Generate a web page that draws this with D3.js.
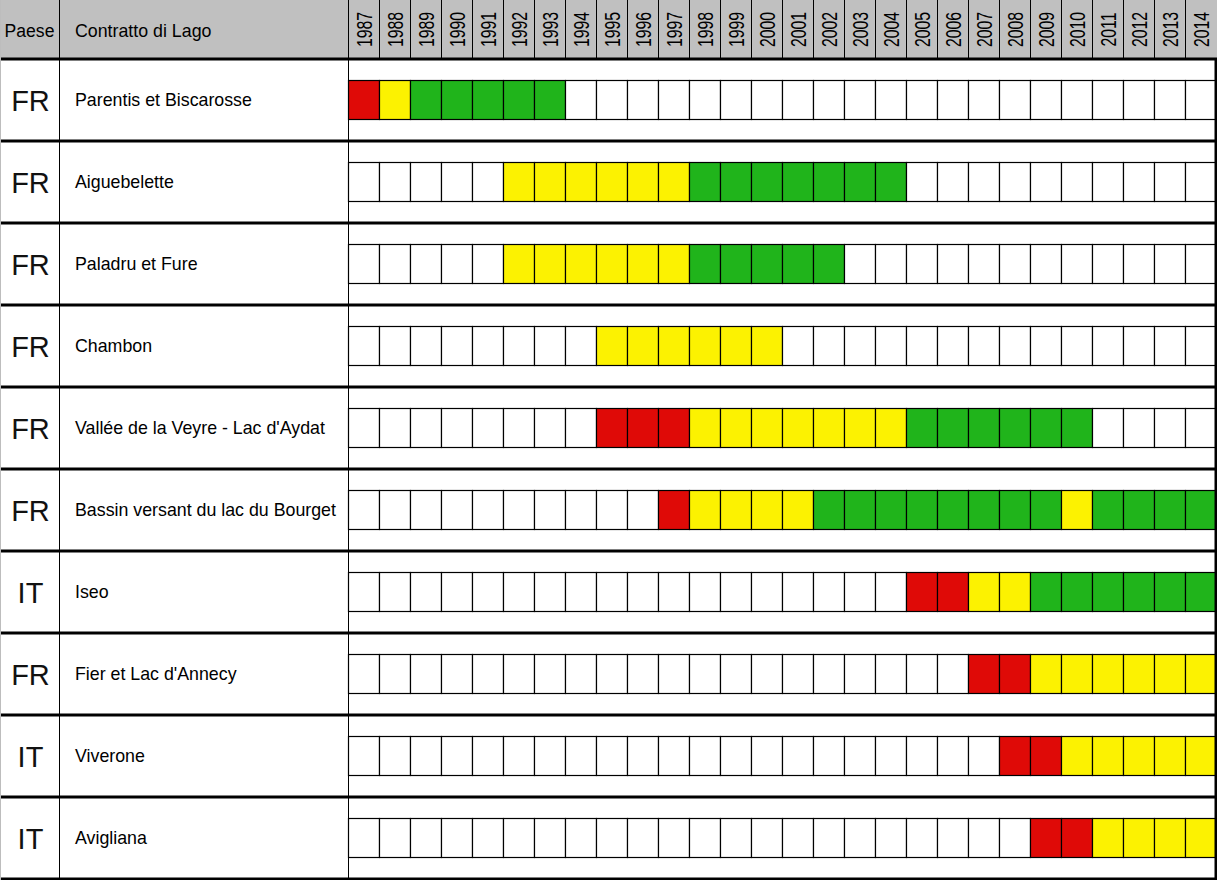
<!DOCTYPE html>
<html>
<head>
<meta charset="utf-8">
<script src="https://cdn.jsdelivr.net/npm/d3@7/dist/d3.min.js"></script>
<style>
  html, body { margin: 0; padding: 0; background: #fff; }
  svg { display: block; font-family: "Liberation Sans", Arial, sans-serif; }
</style>
</head>
<body>
<svg id="chart" width="1217" height="880"></svg>
<script>
// ---- data ----
const headerLabels = ["Paese", "Contratto di Lago"];
const years = [1987,1988,1989,1990,1991,1992,1993,1994,1995,1996,1997,1998,1999,2000,
               2001,2002,2003,2004,2005,2006,2007,2008,2009,2010,2011,2012,2013,2014];
const countries = ["FR","FR","FR","FR","FR","FR","IT","FR","IT","IT"];
const lakes = ["Parentis et Biscarosse","Aiguebelette","Paladru et Fure","Chambon",
               "Vallée de la Veyre - Lac d'Aydat","Bassin versant du lac du Bourget",
               "Iseo","Fier et Lac d'Annecy","Viverone","Avigliana"];
// phases: [lake index, first year, last year, phase]
const phases = [
  [0,1987,1987,"red"],[0,1988,1988,"yellow"],[0,1989,1993,"green"],
  [1,1992,1997,"yellow"],[1,1998,2004,"green"],
  [2,1992,1997,"yellow"],[2,1998,2002,"green"],
  [3,1995,2000,"yellow"],
  [4,1995,1997,"red"],[4,1998,2004,"yellow"],[4,2005,2010,"green"],
  [5,1997,1997,"red"],[5,1998,2001,"yellow"],[5,2002,2009,"green"],[5,2010,2010,"yellow"],[5,2011,2014,"green"],
  [6,2005,2006,"red"],[6,2007,2008,"yellow"],[6,2009,2014,"green"],
  [7,2007,2008,"red"],[7,2009,2014,"yellow"],
  [8,2008,2009,"red"],[8,2010,2014,"yellow"],
  [9,2009,2010,"red"],[9,2011,2014,"yellow"]
];
const phaseColor = {red:"#df0a07", yellow:"#fcf201", green:"#20b41b"};

// ---- layout ----
const W = 1217, H = 880;
const headerH = 59, rowH = 82;
const col1 = 59, col2 = 348, gridRight = 1216;
const svg = d3.select("#chart");

const x = d3.scaleBand().domain(years).range([col2, gridRight]).paddingInner(0).paddingOuter(0);
const y = d3.scaleBand().domain(d3.range(lakes.length)).range([headerH, headerH + rowH*lakes.length]);

// cell status lookup
const status = lakes.map(() => ({}));
phases.forEach(([i,a,b,p]) => { years.forEach(yr => { if (yr>=a && yr<=b) status[i][yr]=p; }); });

// header background
svg.append("rect").attr("x",0).attr("y",0).attr("width",W).attr("height",headerH).attr("fill","#c0c0c0");

// header texts
svg.append("text").attr("x",col1/2).attr("y",31).attr("text-anchor","middle").attr("dominant-baseline","central")
  .attr("font-size",17.6).text(headerLabels[0]);
svg.append("text").attr("x",75).attr("y",31).attr("dominant-baseline","central")
  .attr("font-size",17.8).text(headerLabels[1]);

svg.append("g").selectAll("text").data(years).join("text")
  .attr("transform", d => `translate(${x(d)+x.bandwidth()/2+1},29.5) rotate(-90) scale(0.72,1)`)
  .attr("text-anchor","middle").attr("dominant-baseline","central")
  .attr("font-size",22).text(d=>d);

// header vertical dividers
const hdiv = [col1, col2].concat(years.slice(1).map(d=>x(d)));
svg.append("g").selectAll("line").data(hdiv).join("line")
  .attr("x1",d=>d+0.5).attr("x2",d=>d+0.5).attr("y1",0).attr("y2",headerH)
  .attr("stroke","#000").attr("stroke-width",1);

// cells
const cellTop = 21, cellH = 39;
const rows = svg.append("g").selectAll("g").data(lakes).join("g");
rows.each(function(name, i) {
  const g = d3.select(this);
  g.selectAll("rect").data(years).join("rect")
    .attr("x", d => x(d)+0.5)
    .attr("y", y(i)+cellTop+0.5)
    .attr("width", x.bandwidth())
    .attr("height", cellH)
    .attr("fill", d => status[i][d] ? phaseColor[status[i][d]] : "#fff")
    .attr("stroke","#000").attr("stroke-width",1.2);
  g.append("text").attr("x",col1/2+1).attr("y",y(i)+rowH/2+1)
    .attr("text-anchor","middle").attr("dominant-baseline","central")
    .attr("font-size",29).attr("fill","#111").text(countries[i]);
  g.append("text").attr("x",75).attr("y",y(i)+rowH/2)
    .attr("dominant-baseline","central")
    .attr("font-size",17.8).text(name);
});

// body vertical dividers
[col1, col2].forEach(cx => {
  svg.append("line").attr("x1",cx+0.5).attr("x2",cx+0.5).attr("y1",headerH).attr("y2",H)
    .attr("stroke","#000").attr("stroke-width",1);
});

// left gray border
svg.append("line").attr("x1",0.5).attr("x2",0.5).attr("y1",0).attr("y2",H).attr("stroke","#bdbdbd").attr("stroke-width",1);

// thick row separators
const seps = d3.range(lakes.length+1).map(i => headerH + i*rowH);
svg.append("g").selectAll("line").data(seps).join("line")
  .attr("x1",1).attr("x2",W).attr("y1",d=>d).attr("y2",d=>d)
  .attr("stroke","#000").attr("stroke-width",3);

// right border
svg.append("line").attr("x1",gridRight).attr("x2",gridRight).attr("y1",headerH).attr("y2",H)
  .attr("stroke","#000").attr("stroke-width",3);
</script>
</body>
</html>
